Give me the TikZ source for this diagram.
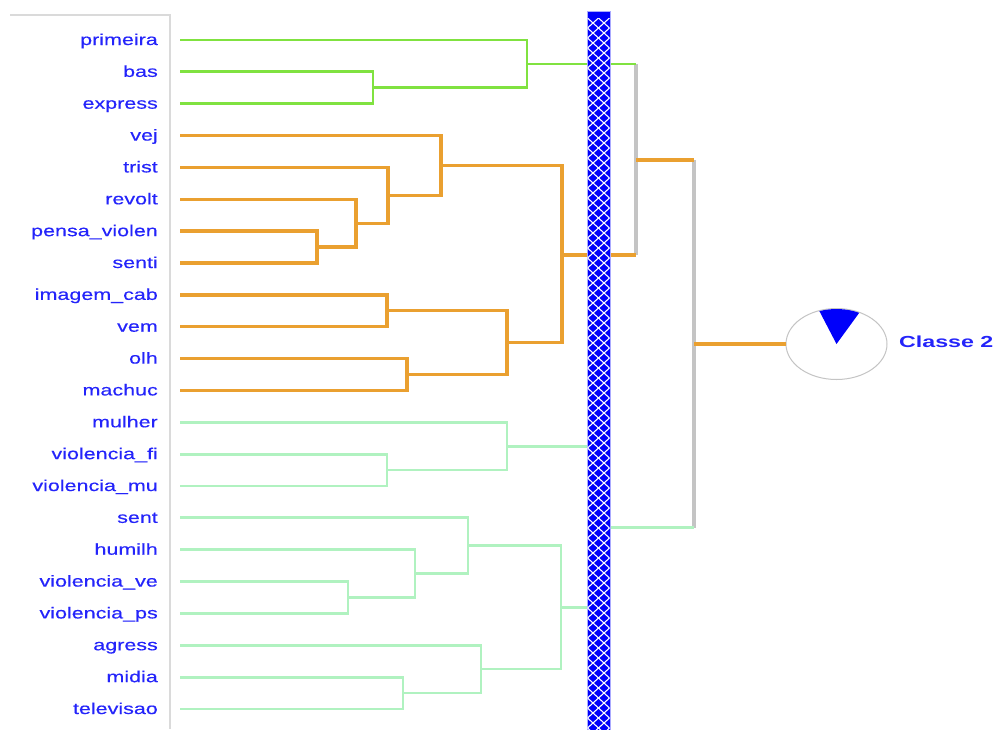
\documentclass[tikz,border=0pt]{standalone}
\usepackage{fontspec}
\setmainfont{Liberation Sans}
\newfontfamily\lblfont[FakeStretch=1.36,FakeBold=0.4]{Liberation Sans}
\newfontfamily\clsfont[FakeStretch=1.45]{Liberation Sans}
\usetikzlibrary{shapes.geometric}
\definecolor{lblblue}{RGB}{36,36,250}
\definecolor{cgreen}{RGB}{128,226,64}
\definecolor{corange}{RGB}{234,160,48}
\definecolor{clight}{RGB}{176,242,192}
\definecolor{cgray}{RGB}{196,196,196}
\definecolor{framegray}{RGB}{218,218,218}
\definecolor{barblue}{RGB}{0,0,250}
\definecolor{baredge}{RGB}{170,170,255}
\tikzset{
  lbl/.style={font=\lblfont\fontsize{15.8}{18}\selectfont, text=lblblue, anchor=base east, inner sep=0pt},
  gline/.style={draw=cgreen, line width=2.8pt},
  oline/.style={draw=corange, line width=3.3pt},
  lline/.style={draw=clight, line width=2.8pt},
  grline/.style={draw=cgray, line width=3.8pt},
  patline/.style={draw=white, line width=1.1pt},
}
\begin{document}
\begin{tikzpicture}[x=1pt,y=-1pt]
\useasboundingbox (0,0) rectangle (996,729);
% frame
\draw[framegray, line width=1.5pt] (10,15) -- (170,15) -- (170,729);
% leaves
\foreach \t [count=\i] in {primeira,bas,express,vej,trist,revolt,pensa\_violen,senti,imagem\_cab,vem,olh,machuc,mulher,violencia\_fi,violencia\_mu,sent,humilh,violencia\_ve,violencia\_ps,agress,midia,televisao}{
  \pgfmathsetmacro{\yy}{40+31.857*(\i-1)}
  \node[lbl] (n\i) at (158,\yy+5) {\t};
  \coordinate (s\i) at (180,\yy);
}
% junctions
\coordinate (G1) at (373,87.8);
\coordinate (G2) at (527,63.9);
\coordinate (O1) at (317,247.1);
\coordinate (O2) at (356,223.2);
\coordinate (O3) at (388,195.3);
\coordinate (O4) at (441,165.4);
\coordinate (O5) at (387,310.8);
\coordinate (O6) at (407,374.5);
\coordinate (O7) at (507,342.7);
\coordinate (O8) at (562,255.0);
\coordinate (T1) at (636,160.0);
\coordinate (L1) at (387,470.0);
\coordinate (L2) at (507,446.2);
\coordinate (L3) at (348,597.3);
\coordinate (L4) at (415,573.5);
\coordinate (L5) at (468,545.6);
\coordinate (L6) at (403,693.0);
\coordinate (L7) at (481,669.0);
\coordinate (L8) at (561,607.3);
\coordinate (L9) at (598,527.5);
\coordinate (R) at (694,344.0);
% green cluster
\draw[gline] (s2) -| (G1) |- (s3);
\draw[gline] (s1) -| (G2) |- (G1);
% orange cluster
\draw[oline] (s7) -| (O1) |- (s8);
\draw[oline] (s6) -| (O2) |- (O1);
\draw[oline] (s5) -| (O3) |- (O2);
\draw[oline] (s4) -| (O4) |- (O3);
\draw[oline] (s9) -| (O5) |- (s10);
\draw[oline] (s11) -| (O6) |- (s12);
\draw[oline] (O5) -| (O7) |- (O6);
\draw[oline] (O4) -| (O8) |- (O7);
% light cluster
\draw[lline] (s14) -| (L1) |- (s15);
\draw[lline] (s13) -| (L2) |- (L1);
\draw[lline] (s18) -| (L3) |- (s19);
\draw[lline] (s17) -| (L4) |- (L3);
\draw[lline] (s16) -| (L5) |- (L4);
\draw[lline] (s21) -| (L6) |- (s22);
\draw[lline] (s20) -| (L7) |- (L6);
\draw[lline] (L5) -| (L8) |- (L7);
\draw[lline] (L2) -| (L9) |- (L8);
% upper merges
\draw[grline] (G2 -| T1) -- (O8 -| T1);
\draw[gline] (G2) -- (G2 -| T1);
\draw[oline] (O8) -- (O8 -| T1);
\draw[grline] (T1 -| R) -- (L9 -| R);
\draw[oline] (T1) -- (T1 -| R);
\draw[lline] (L9) -- (L9 -| R);
% bar
\node[draw=baredge, line width=1pt, fill=barblue, minimum width=23pt, minimum height=719pt, inner sep=0pt, anchor=north] (bar) at (598.5,11) {};
\begin{scope}
  \clip (587.5,18) rectangle (609.5,729);
  \foreach \k in {-3,...,73}{
    \draw[patline] (587.5,18+10*\k) -- ++(22,20);
    \draw[patline] (587.5,18+10*\k) -- ++(22,-20);
  }
\end{scope}
% class pie
\node[draw=cgray, line width=1pt, fill=white, ellipse, minimum width=101pt, minimum height=71pt, inner sep=0pt] (pie) at (836.5,344) {};
\fill[barblue] (pie.center) -- ++(-110:50 and 35) arc[start angle=-110, end angle=-63, x radius=50, y radius=35] -- cycle;
\draw[oline] (R) -- (pie.west);
\node[font=\clsfont\bfseries\fontsize{16}{18}\selectfont, text=lblblue, anchor=base west, inner sep=0pt] (cls) at (899,347.5) {Classe 2};
\end{tikzpicture}
\end{document}
